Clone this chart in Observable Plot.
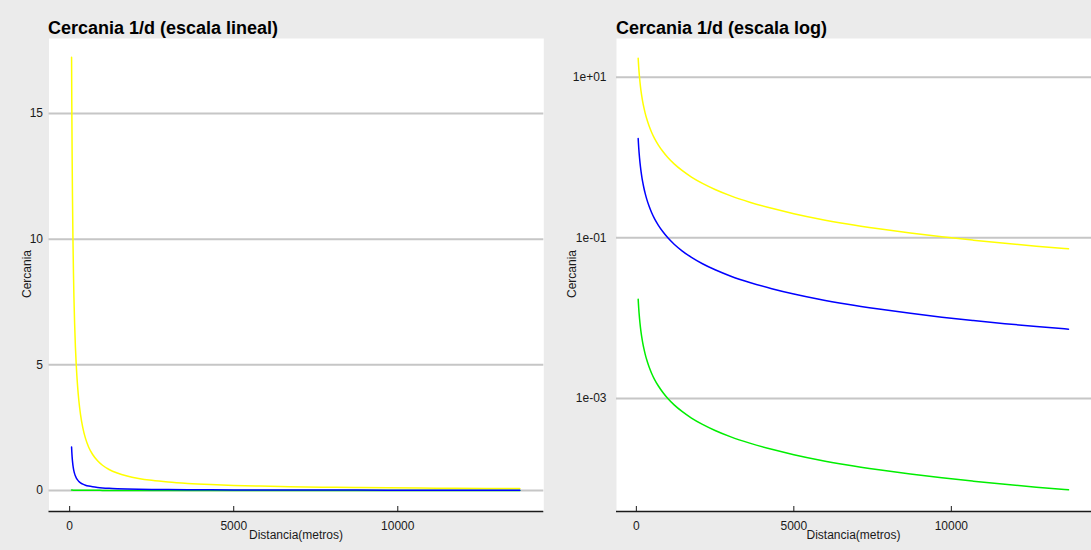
<!DOCTYPE html>
<html>
<head>
<meta charset="utf-8">
<script src="https://cdn.jsdelivr.net/npm/d3@7"></script>
<script src="https://cdn.jsdelivr.net/npm/@observablehq/plot@0.6"></script>
<style>
  html, body { margin: 0; padding: 0; background: #ebebeb; }
  #chart { position: relative; width: 1091px; height: 550px; background: #ebebeb; overflow: hidden;
    font-family: "Liberation Sans", Arial, Helvetica, sans-serif; color: #1a1a1a; }
  .panel { position: absolute; top: 0; }
  .title { position: absolute; font-size: 18px; font-weight: bold; line-height: 1; color: #000; white-space: nowrap; }
  .xlab, .ylab { position: absolute; font-size: 12px; line-height: 1; white-space: nowrap; color: #1a1a1a; }
  .xlab { transform: translate(-50%, -50%); }
  .ylab { transform: translate(-50%, -50%) rotate(-90deg); }
</style>
</head>
<body>
<div id="chart">
  <div class="panel" id="p1" style="left:0px"></div>
  <div class="panel" id="p2" style="left:545px"></div>
  <div class="title" style="left:48px; top:19px">Cercania 1/d (escala lineal)</div>
  <div class="title" style="left:616px; top:19px">Cercania 1/d (escala log)</div>
  <div class="ylab" style="left:26.5px; top:274px">Cercania</div>
  <div class="ylab" style="left:572px; top:274px">Cercania</div>
  <div class="xlab" style="left:296px; top:535px">Distancia(metros)</div>
  <div class="xlab" style="left:853.5px; top:535px">Distancia(metros)</div>
</div>
<script>
// Distances (metres) along the curves
const distancia = [58, 65, 75, 85, 100, 115, 130, 150, 175, 200, 240, 280, 330, 400, 480, 580, 700, 850,
  1000, 1200, 1450, 1750, 2100, 2500, 3000, 3600, 4300, 5000, 5800, 6700, 7700, 8700, 9700, 10700, 11700, 12700, 13720];
// Yellow series
const cercaniaAmarillo = [17.24, 15.38, 13.33, 11.76, 10.0, 8.70, 7.69, 6.67, 5.71, 5.00, 4.17, 3.57, 3.03, 2.50,
  2.08, 1.72, 1.43, 1.18, 1.00, 0.833, 0.690, 0.571, 0.476, 0.400, 0.333, 0.278, 0.233, 0.200, 0.172, 0.149,
  0.130, 0.115, 0.103, 0.0935, 0.0855, 0.0787, 0.0729];
// Blue series
const cercaniaAzul = [1.724, 1.538, 1.333, 1.176, 1.000, 0.870, 0.769, 0.667, 0.571, 0.500, 0.417, 0.357, 0.303,
  0.250, 0.208, 0.172, 0.143, 0.118, 0.100, 0.0833, 0.0690, 0.0571, 0.0476, 0.0400, 0.0333, 0.0278, 0.0233,
  0.0200, 0.0172, 0.0149, 0.0130, 0.0115, 0.0103, 0.00935, 0.00855, 0.00787, 0.00729];
// Green series
const cercaniaVerde = [0.01724, 0.01538, 0.01333, 0.01176, 0.01000, 0.00870, 0.00769, 0.00667, 0.00571, 0.00500,
  0.00417, 0.00357, 0.00303, 0.00250, 0.00208, 0.00172, 0.00143, 0.00118, 0.00100, 0.000833, 0.000690, 0.000571,
  0.000476, 0.000400, 0.000333, 0.000278, 0.000233, 0.000200, 0.000172, 0.000149, 0.000130, 0.000115, 0.000103,
  0.0000935, 0.0000855, 0.0000787, 0.0000729];

// Tick values
const xTicks = [0, 5000, 10000];
const yTicksLineal = [0, 5, 10, 15];
const yTicksLog = [10, 0.1, 0.001];

const series = [
  {vals: cercaniaAmarillo, color: "#ffff00"},
  {vals: cercaniaVerde, color: "#00ee00"},
  {vals: cercaniaAzul, color: "#0000ff"}
];

const xDomain = [-630, 14450];
const style = {background: "transparent", fontFamily: "'Liberation Sans', Arial, sans-serif", fontSize: "12px", color: "#1a1a1a", overflow: "visible"};

function lineMarks() {
  return series.map(s => Plot.line(distancia, {x: d => d, y: s.vals, stroke: s.color, strokeWidth: 1.5, curve: "monotone-x"}));
}

function panel({width, marginLeft, marginRight, yScale, yTicks, yFormat, yPad}) {
  const yMin = yScale.domain[0];
  return Plot.plot({
    width, height: 550,
    marginLeft, marginRight, marginTop: 38, marginBottom: 39,
    style,
    x: {domain: xDomain},
    y: yScale,
    marks: [
      Plot.frame({fill: "white", stroke: "none"}),
      Plot.gridY(yTicks, {stroke: "#c6c6c6", strokeOpacity: 1, strokeWidth: 2}),
      Plot.ruleY([yMin], {stroke: "#1a1a1a", strokeWidth: 1.3}),
      Plot.axisX(xTicks, {tickSize: -5, tickPadding: 15, label: null, tickFormat: d => String(d), stroke: "#1a1a1a"}),
      Plot.axisY(yTicks, {tickSize: 0, tickPadding: yPad, label: null, tickFormat: yFormat}),
      ...lineMarks()
    ]
  });
}

const fmtLog = d => d.toExponential(0).replace(/e([+-])(\d)$/, "e$10$2");

document.getElementById("p1").appendChild(panel({
  width: 545, marginLeft: 48.5, marginRight: 1.7,
  yScale: {type: "linear", domain: [-0.84, 17.99]},
  yTicks: yTicksLineal, yFormat: d => String(d), yPad: 6
}));
document.getElementById("p2").appendChild(panel({
  width: 546, marginLeft: 71, marginRight: 0,
  yScale: {type: "log", domain: [3.92e-5, 30.3]},
  yTicks: yTicksLog, yFormat: fmtLog, yPad: 10
}));
</script>
</body>
</html>
